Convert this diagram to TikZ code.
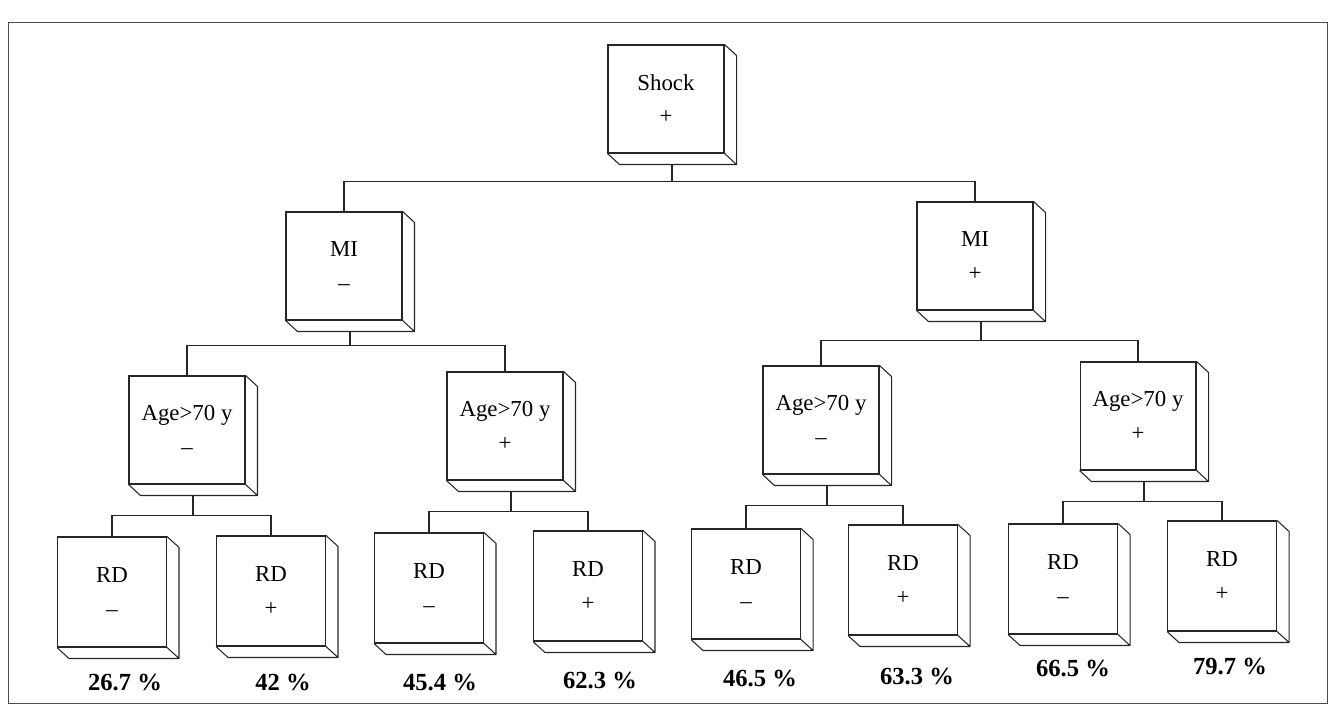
\documentclass[tikz,border=0pt]{standalone}
\usepackage{fontspec}
\setmainfont{Liberation Serif}
\usetikzlibrary{calc}
%% front face of a box is the node; the relief is added afterwards
\newcommand{\boiteRelief}[1]{%
  \draw[relief] (#1.north east) -- ++(12,11) -- ($(#1.south east)+(12,11)$)
        -- ($(#1.south west)+(12,11)$) -- (#1.south west)
        (#1.south east) -- ++(12,11);}
\tikzset{
  %% ── Boxes ──
  boite/.style       = {draw=black!85, line width=0.6pt, fill=white, align=center,
                        minimum width=2.32cm, minimum height=2.16cm, inner sep=0pt,
                        font=\fontsize{13}{16}\selectfont},
  boiteRD/.style     = {boite, minimum width=2.18cm, minimum height=2.2cm},
  relief/.style      = {draw=black!85, line width=0.6pt, line join=round},
  %% ── Lines and text ──
  lien/.style        = {draw=black!85, line width=0.6pt},
  pourcentage/.style = {font=\fontsize{14}{17}\selectfont\bfseries, inner sep=1pt},
  cadre/.style       = {draw=black!70, line width=0.5pt},
}

\begin{document}
\begin{tikzpicture}[x=0.02cm, y=-0.02cm]
\useasboundingbox (0,0) rectangle (1331,716);
\draw[cadre] (8,22) rectangle (1327,703);

%% tree
\node[boite] (choc) at (666, 99) {Shock\\[3pt]+};

\node[boite] (miMoins) at (344, 266) {MI\\[3pt]\textendash};
\node[boite] (miPlus)  at (975, 256) {MI\\[3pt]+};

\node[boite] (ageA) at (187, 430) {Age>70 y\\[3pt]\textendash};
\node[boite] (ageB) at (505, 426) {Age>70 y\\[3pt]+};
\node[boite] (ageC) at (821, 420) {Age>70 y\\[3pt]\textendash};
\node[boite] (ageD) at (1138, 416) {Age>70 y\\[3pt]+};

\node[boiteRD] (rdA) at (112, 592) {RD\\[3pt]\textendash};
\node[boiteRD] (rdB) at (271, 591) {RD\\[3pt]+};
\node[boiteRD] (rdC) at (429, 588) {RD\\[3pt]\textendash};
\node[boiteRD] (rdD) at (588, 586) {RD\\[3pt]+};
\node[boiteRD] (rdE) at (746, 584) {RD\\[3pt]\textendash};
\node[boiteRD] (rdF) at (903, 580) {RD\\[3pt]+};
\node[boiteRD] (rdG) at (1063, 579) {RD\\[3pt]\textendash};
\node[boiteRD] (rdH) at (1222, 576) {RD\\[3pt]+};

\foreach \b in {choc, miMoins, miPlus, ageA, ageB, ageC, ageD,
                rdA, rdB, rdC, rdD, rdE, rdF, rdG, rdH}
  \boiteRelief{\b};

%% connectors
\draw[lien] (choc.south) ++(6,11) -- ++(0,17) -| (miMoins.north);
\draw[lien] (choc.south) ++(6,11) -- ++(0,17) -| (miPlus.north);

\draw[lien] (miMoins.south) ++(6,11) -- ++(0,14) -| (ageA.north);
\draw[lien] (miMoins.south) ++(6,11) -- ++(0,14) -| (ageB.north);
\draw[lien] (miPlus.south) ++(6,11) -- ++(0,19) -| (ageC.north);
\draw[lien] (miPlus.south) ++(6,11) -- ++(0,19) -| (ageD.north);

\draw[lien] (ageA.south) ++(6,11) -- ++(0,20) -| (rdA.north);
\draw[lien] (ageA.south) ++(6,11) -- ++(0,20) -| (rdB.north);
\draw[lien] (ageB.south) ++(6,11) -- ++(0,20) -| (rdC.north);
\draw[lien] (ageB.south) ++(6,11) -- ++(0,20) -| (rdD.north);
\draw[lien] (ageC.south) ++(6,11) -- ++(0,20) -| (rdE.north);
\draw[lien] (ageC.south) ++(6,11) -- ++(0,20) -| (rdF.north);
\draw[lien] (ageD.south) ++(6,11) -- ++(0,20) -| (rdG.north);
\draw[lien] (ageD.south) ++(6,11) -- ++(0,20) -| (rdH.north);

%% results
\node[pourcentage] (pA) at (125, 682) {26.7 \%};
\node[pourcentage] (pB) at (283, 682) {42 \%};
\node[pourcentage] (pC) at (440, 682) {45.4 \%};
\node[pourcentage] (pD) at (600, 680) {62.3 \%};
\node[pourcentage] (pE) at (760, 678) {46.5 \%};
\node[pourcentage] (pF) at (917, 676) {63.3 \%};
\node[pourcentage] (pG) at (1073, 668) {66.5 \%};
\node[pourcentage] (pH) at (1230, 666) {79.7 \%};

\end{tikzpicture}
\end{document}
